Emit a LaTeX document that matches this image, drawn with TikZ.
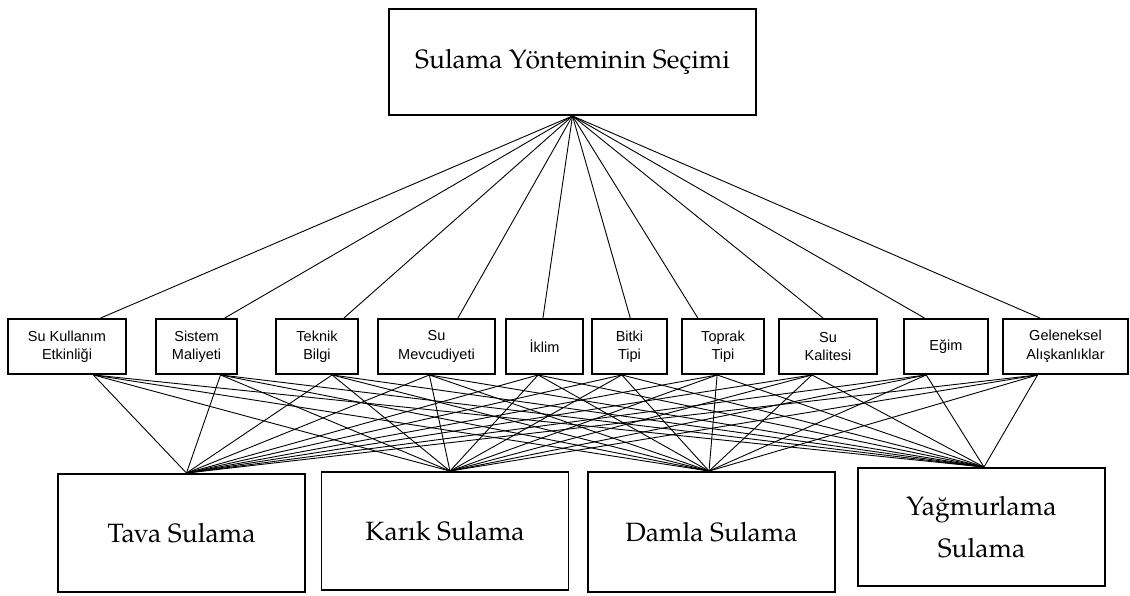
\documentclass[tikz,border=0pt]{standalone}
\usepackage{fontspec}
\newfontfamily\serifb{TeX Gyre Pagella}
\newfontfamily\sansb{Liberation Sans}
\usetikzlibrary{calc}
\tikzset{
  boxb/.style={draw, line width=1.9pt, inner sep=0pt, align=center},
  goal/.style={boxb, font=\serifb\fontsize{26.5}{42}\selectfont},
  crit/.style={boxb, minimum height=55pt, font=\sansb\fontsize{14.5}{18.5}\selectfont},
  alt/.style={boxb, minimum width=247pt, font=\serifb\fontsize{26.5}{42}\selectfont},
  conn/.style={draw, line width=0.9pt}
}
\begin{document}
\begin{tikzpicture}[x=1pt,y=-1pt]
\useasboundingbox (0,0) rectangle (1130,595);
\node[goal, minimum width=367pt, minimum height=106pt] (top) at (572.5,62) {Sulama Yönteminin Seçimi};
\node[crit, minimum width=118pt] (c1) at (67,346.5) {Su Kullanım\\Etkinliği};
\node[crit, minimum width=81pt] (c2) at (196.5,346.5) {Sistem\\Maliyeti};
\node[crit, minimum width=82pt] (c3) at (317,346.5) {Teknik\\Bilgi};
\node[crit, minimum width=117pt] (c4) at (436.5,346.5) {Su\\Mevcudiyeti};
\node[crit, minimum width=77pt] (c5) at (544.5,346.5) {İklim};
\node[crit, minimum width=75pt] (c6) at (629.5,346.5) {Bitki\\Tipi};
\node[crit, minimum width=82pt] (c7) at (723,346.5) {Toprak\\Tipi};
\node[crit, minimum width=98pt] (c8) at (828,346.5) {Su\\Kalitesi};
\node[crit, minimum width=84pt] (c9) at (946,346.5) {Eğim};
\node[crit, minimum width=125pt] (c10) at (1065.5,346.5) {Geleneksel\\Alışkanlıklar};
\node[alt, minimum height=118pt] (a1) at (181.5,533) {Tava Sulama};
\node[alt, minimum height=118pt] (a2) at (445,531) {Karık Sulama};
\node[alt, minimum height=120pt] (a3) at (711.5,532) {Damla Sulama};
\node[alt, minimum height=118pt] (a4) at (981.5,527) {Yağmurlama\\Sulama};
\foreach \i/\t/\b in {1/0.78/0.72, 2/0.84/0.79, 3/0.82/0.68, 4/0.68/0.44, 5/0.48/0.42, 6/0.51/0.40, 7/0.20/0.43, 8/0.45/0.34, 9/0.25/0.27, 10/0.30/0.28} {
  \draw[conn] (top.south) -- ($(c\i.north west)!\t!(c\i.north east)$);
  \foreach \j/\f in {1/0.52, 2/0.52, 3/0.49, 4/0.51} {
    \draw[conn] ($(c\i.south west)!\b!(c\i.south east)$) -- ($(a\j.north west)!\f!(a\j.north east)$);
  }
}
\end{tikzpicture}
\end{document}
